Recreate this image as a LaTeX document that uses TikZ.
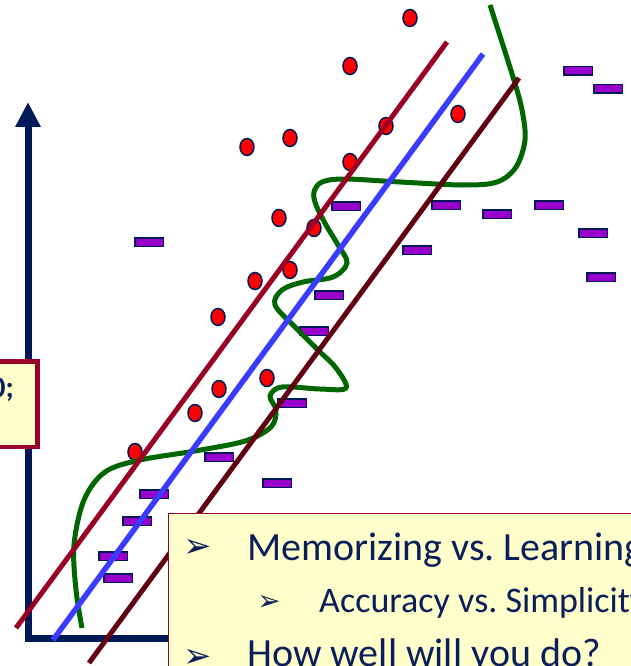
\documentclass[tikz,border=0pt]{standalone}
\usepackage{fontspec}
\setmainfont{Carlito}
\newfontfamily\symfont{DejaVu Sans}
\usetikzlibrary{arrows.meta,shapes.geometric}
\frenchspacing

\definecolor{navy}{RGB}{0,26,87}
\definecolor{inkblue}{RGB}{10,30,90}
\definecolor{crimson}{RGB}{153,0,34}
\definecolor{fitblue}{RGB}{59,59,255}
\definecolor{darkbrown}{RGB}{96,0,16}
\definecolor{curvegreen}{RGB}{0,102,0}
\definecolor{dashpurple}{RGB}{153,0,204}
\definecolor{paleyellow}{RGB}{255,255,204}
\definecolor{boxred}{RGB}{153,0,43}

\begin{document}
\begin{tikzpicture}[x=1pt,y=-1pt,
  dot/.style={ellipse,draw=navy,line width=1.5pt,fill=red,minimum width=14pt,minimum height=17pt,inner sep=0pt},
  pbar/.style={rectangle,draw=navy,line width=1.5pt,fill=dashpurple,minimum width=28.5pt,minimum height=8.5pt,inner sep=0pt},
  fitline/.style={line width=5pt},
  axis/.style={draw=navy,line width=7pt,line join=miter},
  panel/.style={draw=boxred,fill=paleyellow,inner sep=0pt},
  item/.style={anchor=base west,inner sep=0pt,text=inkblue},
  bul/.style={inner sep=0pt,text=inkblue,font=\symfont\fontsize{34}{34}\selectfont}]
\useasboundingbox (0,0) rectangle (631,666);

% axes
\draw[axis,{Triangle[length=25pt,width=24pt]}-] (28,102) -- (28,638) -- (180,638);

% positive examples
\foreach \px/\py [count=\i] in {410/18,350/66,386/126,458/114,247/147,290/138,350/162,279/218,
    314/228,290/270,255/281,218/317,267/378,219/389,195/413,135/452}
  \node[dot] (pos\i) at (\px,\py) {};

% negative examples
\foreach \px/\py [count=\i] in {578/71,608/89,149/242,346/206,446/205,497/214,549/205,593/233,
    417/250,601/277,329/295,314/331,292/403,219/457,277/483,154/494,137/521,113/556,118/578}
  \node[pbar] (neg\i) at (\px,\py) {};

% overfitted boundary
\draw[curvegreen,line width=5pt] plot[smooth,tension=0.55] coordinates {
  (82,628) (76,590) (74,545) (84,500) (105,472) (140,460) (195,451) (245,441)
  (271,427) (276,410) (270,396) (282,387) (320,389) (346,388) (336,368) (318,350)
  (296,328) (275,305) (282,290) (303,282) (333,277) (347,263) (338,245) (326,225)
  (316,205) (314,192) (322,182) (345,179) (400,182) (463,185) (497,182) (516,167)
  (525,140) (522,110) (513,77) (490,5)};

% linear fits
\coordinate (c1) at (16,628); \coordinate (c2) at (447,42);
\coordinate (b1) at (53,640); \coordinate (b2) at (483,54);
\coordinate (d1) at (89,663); \coordinate (d2) at (519,78);
\draw[fitline,crimson] (c1) -- (c2);
\draw[fitline,fitblue,line width=5.5pt] (b1) -- (b2);
\draw[fitline,darkbrown] (d1) -- (d2);

% callout on the left
\node[panel,draw=boxred,line width=4.5pt,anchor=north east,minimum width=120pt,minimum height=85.5pt] (lbox) at (39.75,359.25) {};
\node[anchor=base east,inner sep=0pt,text=inkblue,font=\fontsize{30}{34}\selectfont\bfseries] (lcode) at (14,397) {0;};

% bullet panel
\node[panel,line width=1.5pt,anchor=north west,minimum width=520pt,minimum height=200pt] (tbox) at (167.75,512.75) {};
\node[bul] (bl1) at (198,548) {➢};
\node[bul,font=\symfont\fontsize{28}{28}\selectfont] (bl2) at (269,603) {➢};
\node[bul] (bl3) at (198,658) {➢};
\node[item,font=\fontsize{40}{48}\selectfont] (memo) at (247,560) {Memorizing vs. Learning};
\node[item,font=\fontsize{36}{42}\selectfont] (acc) at (319,612) {Accuracy vs. Simplicity};
\node[item,font=\fontsize{40}{48}\selectfont] (how) at (247,666) {How well will you do?};
\end{tikzpicture}
\end{document}
